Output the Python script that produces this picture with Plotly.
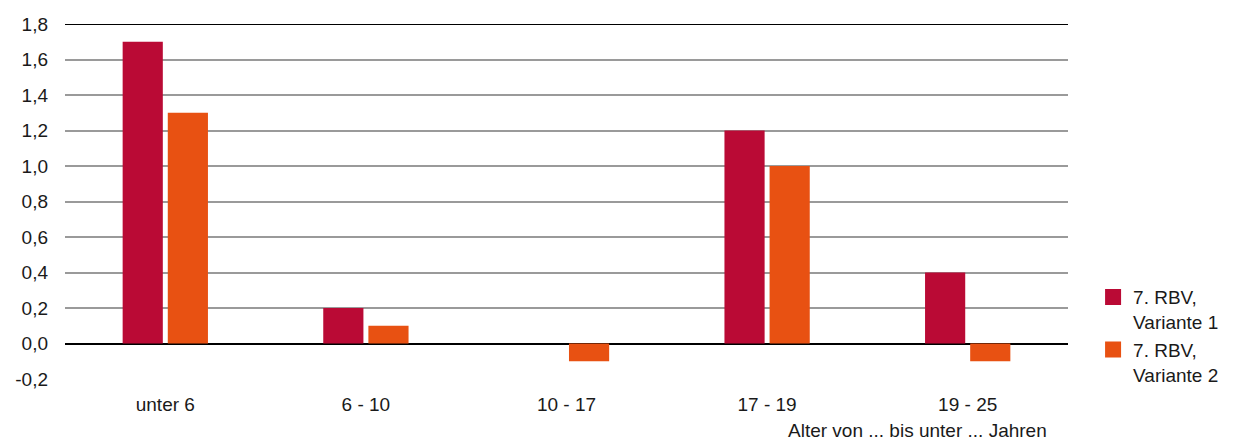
import plotly.graph_objects as go

categories = ["unter 6", "6 - 10", "10 - 17", "17 - 19", "19 - 25"]
variante_1 = [1.7, 0.2, 0.0, 1.2, 0.4]
variante_2 = [1.3, 0.1, -0.1, 1.0, -0.1]
series_names = ["7. RBV,<br>Variante 1", "7. RBV,<br>Variante 2"]
tick_vals = [-0.2, 0.0, 0.2, 0.4, 0.6, 0.8, 1.0, 1.2, 1.4, 1.6, 1.8]
tick_text = ["-0,2", "0,0", "0,2", "0,4", "0,6", "0,8", "1,0", "1,2", "1,4", "1,6", "1,8"]

RED = "#BA0A35"
ORANGE = "#E85112"
GRID = "#9a9a9a"
FONT = "Liberation Sans, Arial, sans-serif"
FS = 19

fig = go.Figure()
for name, vals, col in [(series_names[0], variante_1, RED),
                        (series_names[1], variante_2, ORANGE)]:
    fig.add_trace(go.Bar(x=categories, y=vals, name=name, showlegend=False,
                         marker=dict(color=col, line=dict(width=0))))
    # legend-only entry, so the legend swatch can be larger than the bar default
    fig.add_trace(go.Scatter(x=[None], y=[None], mode="markers", name=name,
                             marker=dict(symbol="square", size=17, color=col,
                                         line=dict(width=0))))

# page body has an 8px margin, so the figure is sized/offset to compensate
fig.update_layout(
    width=1226, height=435,
    margin=dict(l=57, r=166, t=16, b=64, autoexpand=False),
    paper_bgcolor="white", plot_bgcolor="white",
    font=dict(family=FONT, size=FS, color="#1a1a1a"),
    barmode="group", bargap=0.55, bargroupgap=0.11,
    showlegend=True,
    legend=dict(x=1.025, y=0.284, xanchor="left", yanchor="top",
                font=dict(size=FS), tracegroupgap=8, valign="top",
                itemwidth=30, bgcolor="rgba(0,0,0,0)"),
)
fig.update_yaxes(range=[-0.2, 1.8], tickvals=tick_vals, ticktext=tick_text,
                 showgrid=True, gridcolor=GRID, gridwidth=1.5,
                 zeroline=True, zerolinecolor="black", zerolinewidth=2,
                 showline=False, ticklabelstandoff=16, automargin=False)
fig.update_xaxes(showgrid=False, showline=False, ticks="",
                 ticklabelstandoff=12, automargin=False)
fig.add_shape(type="line", xref="paper", yref="y", x0=0, x1=1, y0=1.8, y1=1.8,
              line=dict(color="black", width=2))
fig.add_annotation(text="Alter von ... bis unter ... Jahren", xref="paper", yref="paper",
                   x=0.981, y=0, yshift=-39, xanchor="right", yanchor="top",
                   showarrow=False, font=dict(size=FS))

fig.write_html("out.html")
